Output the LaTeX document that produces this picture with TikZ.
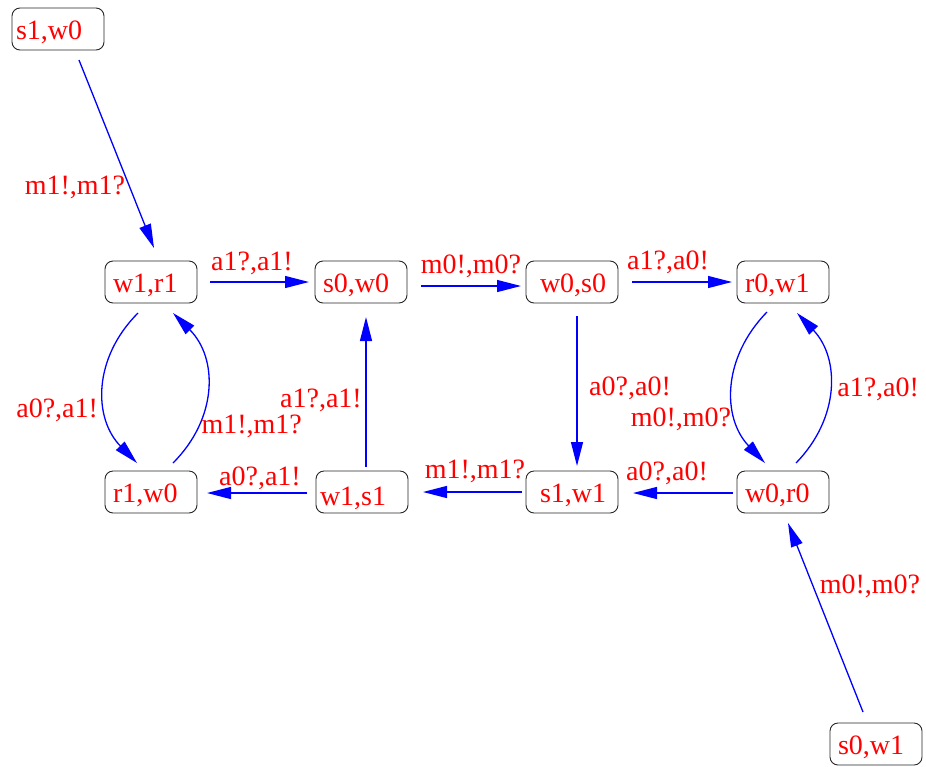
\documentclass[tikz,border=0pt]{standalone}
\usepackage{fontspec}
\setmainfont{Liberation Serif}
\usetikzlibrary{arrows.meta}
\definecolor{lblred}{RGB}{255,0,0}
\definecolor{edgeblue}{RGB}{0,0,255}
\begin{document}
\begin{tikzpicture}[x=1pt,y=-1pt]
\tikzset{
  state/.style={draw=black!85, line width=0.9pt, rounded corners=8pt, text=lblred,
    font=\fontsize{28}{30}\selectfont, text width=76pt, inner xsep=8pt, inner ysep=0pt,
    minimum height=42pt, align=left, text height=22pt, text depth=2pt},
  trans/.style={draw=edgeblue, line width=1.3pt, -{Triangle[length=24pt,width=12pt]}},
  lbl/.style={text=lblred, font=\fontsize{28}{30}\selectfont, anchor=base, inner sep=0pt},
}
\useasboundingbox (0,0) rectangle (926,766);
% states
\node[state] (A) at (58,29)   {\hspace*{-4pt}s1,w0};
\node[state] (B) at (151,282) {w1,r1};
\node[state] (C) at (361,282) {s0,w0};
\node[state] (D) at (572,282) {\hspace*{6pt}w0,s0};
\node[state] (E) at (783,282) {r0,w1};
\node[state] (F) at (151,492) {r1,w0};
\node[state] (G) at (362,492) {\hspace*{-4pt}\raisebox{-3pt}{w1,s1}};
\node[state] (H) at (572,492) {\hspace*{6pt}s1,w1};
\node[state] (I) at (783,492) {w0,r0};
\node[state] (J) at (876,744) {s0,w1};
% transitions
\draw[trans] ([shift={(21,31)}]A.center) -- ([shift={(3,-34)}]B.center)
  node[lbl, midway, xshift=-41.5pt, yshift=-40pt] (l1) {m1!,m1?};
\draw[trans] ([shift={(59,0)}]B.center) -- ([shift={(-52,0)}]C.center)
  node[lbl, midway, xshift=-7.5pt, yshift=12pt] (l2) {a1?,a1!};
\draw[trans] ([shift={(60,4)}]C.center) -- ([shift={(-51,4)}]D.center)
  node[lbl, midway, yshift=13pt] (l3) {m0!,m0?};
\draw[trans] ([shift={(60,0)}]D.center) -- ([shift={(-51,0)}]E.center)
  node[lbl, midway, xshift=-14pt, yshift=13pt] (l4) {a1?,a0!};
\draw[trans] ([shift={(5,34)}]D.center) -- ([shift={(5,-26)}]H.center)
  node[lbl, midway, xshift=53pt, yshift=-4pt] (l5) {a0?,a0!};
\draw[trans] ([shift={(-16,30)}]E.center) .. controls (722,358) and (722,418) .. ([shift={(-18,-29)}]I.center)
  node[lbl, pos=0.5, xshift=-52pt, yshift=-38.5pt] (l6) {m0!,m0?};
\draw[trans] ([shift={(13,-29)}]I.center) .. controls (840,418) and (840,358) .. ([shift={(14,31)}]E.center)
  node[lbl, pos=0.5, xshift=49pt, yshift=-8pt] (l7) {a1?,a0!};
\draw[trans] ([shift={(-50,1)}]I.center) -- ([shift={(61,1)}]H.center)
  node[lbl, midway, xshift=-16pt, yshift=13pt] (l8) {a0?,a0!};
\draw[trans] ([shift={(-50,0)}]H.center) -- ([shift={(61,0)}]G.center)
  node[lbl, midway, xshift=2.5pt, yshift=14pt] (l9) {m1!,m1?};
\draw[trans] ([shift={(-55,1)}]G.center) -- ([shift={(56,1)}]F.center)
  node[lbl, midway, xshift=3pt, yshift=8pt] (l10) {a0?,a1!};
\draw[trans] ([shift={(4,-25)}]G.center) -- ([shift={(5,35)}]C.center)
  node[lbl, midway, xshift=-45pt, yshift=-15pt] (l11) {a1?,a1!};
\draw[trans] ([shift={(-13,31)}]B.center) .. controls (93,358) and (93,418) .. ([shift={(-14,-29)}]F.center)
  node[lbl, pos=0.5, xshift=-47pt, yshift=-29pt] (l12) {a0?,a1!};
\draw[trans] ([shift={(22,-29)}]F.center) .. controls (218,418) and (218,358) .. ([shift={(22,31)}]B.center)
  node[lbl, pos=0.5, xshift=45pt, yshift=-45pt] (l13) {m1!,m1?};
\draw[trans] ([shift={(-13,-32)}]J.center) -- ([shift={(5,31)}]I.center)
  node[lbl, midway, xshift=44.5pt, yshift=24.5pt] (l14) {m0!,m0?};
\end{tikzpicture}
\end{document}
